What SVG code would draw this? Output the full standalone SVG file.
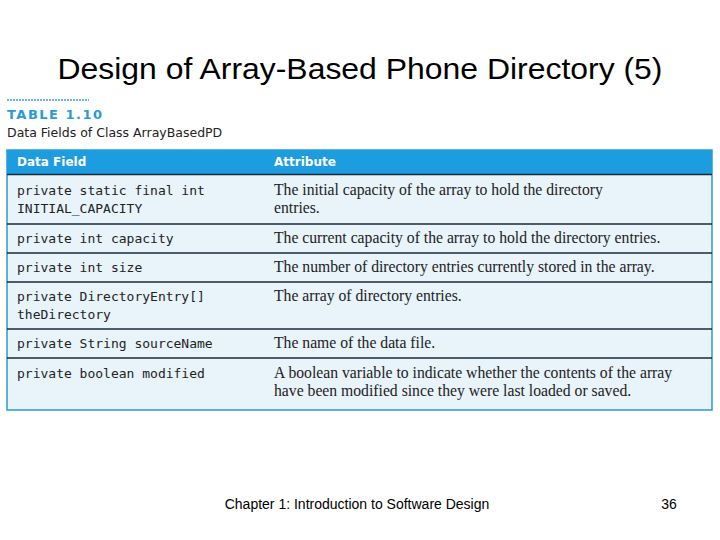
<svg xmlns="http://www.w3.org/2000/svg" width="720" height="540" viewBox="0 0 720 540">
<style>
.t{font-family:"Liberation Sans",Arial,sans-serif}
.m{font-family:"DejaVu Sans Mono","Liberation Mono",monospace;font-size:13px;fill:#222}
.s{font-family:"Liberation Serif","Times New Roman",serif;font-size:15.7px;fill:#222}
.h{font-family:"DejaVu Sans",sans-serif;font-size:12px;font-weight:bold;fill:#fff}
.ln{stroke:#1a2a3a;stroke-width:1.5}
</style>
<rect width="720" height="540" fill="#fff"/>
<text class="t" x="360" y="79" font-size="29" text-anchor="middle" fill="#000" textLength="605" lengthAdjust="spacingAndGlyphs">Design of Array-Based Phone Directory (5)</text>
<line x1="7" y1="100" x2="89" y2="100" stroke="#3aa0d8" stroke-width="1.5" stroke-dasharray="2,1"/>
<text x="7" y="119" font-family="DejaVu Sans,sans-serif" font-size="13" font-weight="bold" fill="#2a9ad8" letter-spacing="1.5">TABLE 1.10</text>
<text x="7" y="137" font-family="DejaVu Sans,sans-serif" font-size="12.5" fill="#222">Data Fields of Class ArrayBasedPD</text>
<g id="table">
<rect x="7" y="150" width="705" height="260" fill="#e8f3fa" stroke="#2a9ad8" stroke-width="1.5"/>
<rect x="7" y="150" width="705" height="24" fill="#1e9ce0"/>
<text class="h" x="17" y="166">Data Field</text>
<text class="h" x="274" y="166">Attribute</text>
<line class="ln" x1="7" y1="174.5" x2="712" y2="174.5"/>
<line class="ln" x1="7" y1="224" x2="712" y2="224" stroke-width="2.5"/>
<line class="ln" x1="7" y1="253" x2="712" y2="253"/>
<line class="ln" x1="7" y1="282" x2="712" y2="282"/>
<line class="ln" x1="7" y1="329" x2="712" y2="329"/>
<line class="ln" x1="7" y1="358" x2="712" y2="358"/>
<text class="m" x="17" y="195">private static final int</text>
<text class="m" x="17" y="213">INITIAL_CAPACITY</text>
<text class="s" x="274" y="195">The initial capacity of the array to hold the directory</text>
<text class="s" x="274" y="213">entries.</text>
<text class="m" x="17" y="243">private int capacity</text>
<text class="s" x="274" y="243">The current capacity of the array to hold the directory entries.</text>
<text class="m" x="17" y="272">private int size</text>
<text class="s" x="274" y="272">The number of directory entries currently stored in the array.</text>
<text class="m" x="17" y="301">private DirectoryEntry[]</text>
<text class="m" x="17" y="319">theDirectory</text>
<text class="s" x="274" y="301">The array of directory entries.</text>
<text class="m" x="17" y="348">private String sourceName</text>
<text class="s" x="274" y="348">The name of the data file.</text>
<text class="m" x="17" y="378">private boolean modified</text>
<text class="s" x="274" y="378">A boolean variable to indicate whether the contents of the array</text>
<text class="s" x="274" y="396">have been modified since they were last loaded or saved.</text>
</g>
<text class="t" x="357" y="509" font-size="14" text-anchor="middle" fill="#000">Chapter 1: Introduction to Software Design</text>
<text class="t" x="669" y="509" font-size="14" text-anchor="middle" fill="#000">36</text>
</svg>
